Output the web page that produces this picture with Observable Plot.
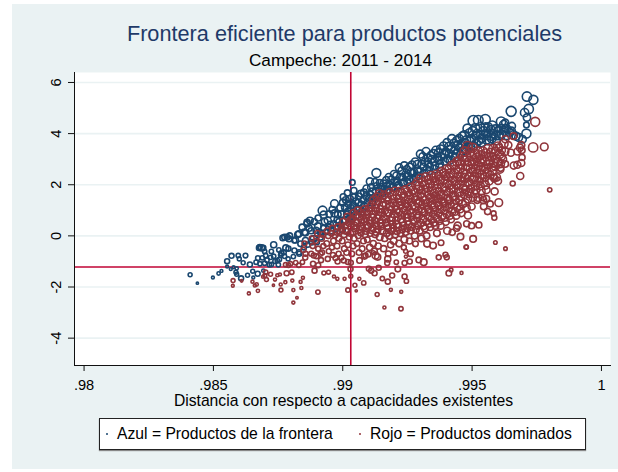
<!DOCTYPE html>
<html><head><meta charset="utf-8">
<script src="https://cdn.jsdelivr.net/npm/d3@7"></script>
<script src="https://cdn.jsdelivr.net/npm/@observablehq/plot@0.6"></script>
<style>
html,body{margin:0;padding:0;background:#fff;width:618px;height:472px;overflow:hidden;font-family:"Liberation Sans",Arial,sans-serif}
#panel{position:absolute;left:12px;top:4px;width:606px;height:465px;background:#eaf2f3}
#chart{position:absolute;left:0;top:0}
.t{position:absolute;white-space:nowrap;transform:translateX(-50%);line-height:1}
#title{left:344.5px;top:23px;font-size:21.7px;color:#1f3a68}
#sub{left:340.5px;top:52px;font-size:17.2px;color:#000}
#xlab{left:343.5px;top:393px;font-size:15.7px;color:#000}
#legend{position:absolute;left:99px;top:418px;width:485px;height:30px;background:#fff;border:1px solid #222;box-shadow:0 1px 1px #888;font-size:15.7px;color:#000}
#legend span{position:absolute;top:7px;white-space:nowrap;line-height:1}
#legend i{position:absolute;top:14px;width:2px;height:2px;border-radius:50%}
</style></head><body>
<div id="panel"></div>
<div id="chart"></div>
<div id="title" class="t">Frontera eficiente para productos potenciales</div>
<div id="sub" class="t">Campeche: 2011 - 2014</div>
<div id="xlab" class="t">Distancia con respecto a capacidades existentes</div>
<div id="legend"><i style="left:6px;background:#1a476f"></i><span style="left:17px">Azul = Productos de la frontera</span><i style="left:259px;background:#90353b"></i><span style="left:270px">Rojo = Productos dominados</span></div>
<script>
const xTicks=[.98,.985,.99,.995,1];
const xTickLabels=[".98",".985",".99",".995","1"];
const yTicks=[-4,-2,0,2,4,6];
const refX=[.99031];
const refY=[-1.22];
// rows: distancia, oportunidad, peso
const azul=[
[.98410,-1.52,5],[.98438,-1.85,1.6],[.98498,-1.63,2.6],[.98520,-1.47,3.5],[.98531,-1.37,2.6],[.98553,-1.20,2.6],[.98567,-1.30,2.6],[.98578,-1.23,2.6],[.98590,-1.27,3.5],[.98587,-1.42,5],[.98590,-1.50,5],[.98607,-1.66,8],[.98632,-1.54,5],[.98652,-1.38,5],[.98654,-1.63,2.6],[.98671,-1.48,8],[.98693,-1.36,3.5],
[.98553,-.99,8],[.98570,-.78,8],[.98596,-.77,6],[.98600,-.90,5],[.98624,-.77,7],[.98615,-1.05,5],[.98641,-1.12,8],[.98672,-.87,7],[.98679,-.44,8],[.98693,-.47,8],[.98698,-.61,6],[.98724,-.61,6],[.98702,-.77,6],[.98721,-.84,6],[.98689,-.86,6],[.98665,-1.03,6],[.98680,-1.09,6],[.98698,-1.07,6],[.98716,-1.13,6],[.98707,-.95,6],[.98733,-.80,6],
[.98733,-.35,12],[.98686,-.47,12],[.98676,-.47,8],[.98753,-.55,6],[.98772,-.64,8],[.98763,-.68,8],[.98780,-.47,12],[.98790,-.50,8],[.98747,-.96,6],[.98738,-.99,6],[.98755,-.92,6],[.98751,-1.13,6],[.98724,-1.12,6],[.98789,-.90,5],[.98813,-.57,8],[.98831,-.64,8],[.98832,-.70,8],[.98809,-.81,6],[.98775,-.80,6],[.98760,-.75,6],
[.98785,-.05,10],[.98775,-.05,10],[.98768,-.08,10],[.98795,.01,10],[.98792,-.12,10],[.98826,.05,12],[.98817,-.16,12],[.98843,.34,12],[.98862,.53,12],[.98852,.14,14],[.98856,-.18,12],[.98837,-.31,10],[.98813,-.18,8],[.98873,.60,14],[.98862,.47,12],[.98830,.08,12],[.98856,.12,12],[.98878,.20,12],[.98897,.22,12],[.98887,-.12,14],[.98914,-.05,10],[.98880,-.25,10],[.98865,-.35,8],[.98850,-.45,8],[.98900,-.25,8],
[.98922,.99,25],[.98926,.83,16],[.98968,1.26,19],[.98942,.60,16],[.98968,.88,16],[.98981,.83,14],[.98904,.38,14],[.98946,.34,10],[.98965,.47,12],[.98925,.30,10],[.98935,.15,10],[.98955,.20,12],[.98918,.10,8],[.98975,.30,12],[.98985,.55,12],
[.99002,1.53,12],[.99000,1.30,14],[.99008,1.12,14],[.98995,.85,14],[.99010,.62,14],[.99018,1.68,12],[.99022,1.25,14],[.99020,.95,14],[.99025,.68,14],[.99037,2.09,10],[.99043,1.77,12],[.99043,1.51,14],[.99040,1.20,14],[.99045,.92,14],[.99062,1.55,14],[.99060,1.30,14],[.99065,1.05,14],[.99082,1.70,14],[.99080,1.40,14],[.99085,1.15,14],
[.99105,2.13,16],[.99130,2.46,25],[.99114,1.73,16],[.99102,1.45,16],[.99130,1.96,12],[.99143,2.07,14],[.99122,1.50,16],[.99140,1.75,14],[.99138,1.58,14],[.99158,2.05,14],[.99162,1.85,14],[.99156,1.70,14],[.99178,2.30,16],[.99182,2.00,16],[.99176,1.80,14],
[.99198,2.42,16],[.99202,2.10,16],[.99195,1.90,14],[.99218,2.67,18],[.99222,2.30,16],[.99216,2.00,16],[.99238,2.75,18],[.99242,2.40,16],[.99236,2.10,16],[.99258,2.70,18],[.99262,2.50,16],[.99256,2.20,16],[.99280,2.90,18],[.99276,2.50,16],[.99284,2.30,16],
[.99300,3.20,20],[.99305,2.80,18],[.99296,2.50,18],[.99322,3.30,20],[.99318,2.90,18],[.99325,2.60,18],[.99340,3.15,18],[.99345,3.00,18],[.99336,2.70,18],[.99360,3.35,20],[.99365,3.05,18],[.99356,2.75,18],[.99378,3.40,20],[.99382,3.10,18],[.99375,2.82,18],
[.99403,3.65,20],[.99398,3.30,18],[.99405,3.02,18],[.99422,3.80,22],[.99418,3.40,20],[.99425,3.12,20],[.99442,3.72,25],[.99445,3.55,20],[.99438,3.22,20],[.99462,3.90,22],[.99458,3.60,20],[.99465,3.32,20],[.99482,4.20,25],[.99478,3.75,22],[.99485,3.50,20],
[.99505,4.50,36],[.99502,4.10,25],[.99498,3.80,22],[.99506,3.52,22],[.99524,4.52,30],[.99520,4.00,25],[.99526,3.72,22],[.99551,4.55,32],[.99545,4.10,25],[.99536,3.82,22],[.99562,4.25,25],[.99558,3.92,22],[.99566,3.72,22],[.99578,4.32,25],[.99582,4.00,22],[.99576,3.80,22],
[.99612,4.47,28],[.99600,4.10,22],[.99605,3.92,22],[.99622,4.35,22],[.99628,4.43,16],[.99625,4.10,22],[.99651,4.87,32],[.99654,4.30,16],[.99645,4.05,20],[.99660,3.95,22],[.99680,3.85,20],
[.99712,5.45,28],[.99737,5.32,26],[.99703,4.82,22],[.99719,4.96,28],[.99712,4.63,17],[.99710,4.34,10],[.99710,4.00,26]
];
const azul2=[
[.98870,.30,12],[.98890,.55,12],[.98905,.70,12],[.98912,.15,10],[.98930,.55,14],[.98948,.85,14],[.98952,.45,12],[.98960,1.02,14],[.98978,.62,12],[.98990,1.10,14],[.98992,.42,12],[.98998,.25,12],[.99012,1.40,14],[.99015,.85,12],[.99028,1.45,14],[.99030,1.10,14],[.99032,.78,14],[.99050,1.35,14],[.99052,1.05,14],[.99054,.80,12],[.99070,1.65,14],[.99072,1.22,14],[.99075,.95,14],[.99092,1.85,16],[.99090,1.55,14],[.99095,1.28,14],[.99110,1.90,16],[.99108,1.60,16],[.99115,1.30,14],[.99125,2.10,16],[.99128,1.75,16],[.99132,1.55,14],
[.99148,1.92,16],[.99150,1.65,16],[.99168,2.18,16],[.99170,1.95,16],[.99172,1.75,14],[.99188,2.20,16],[.99190,1.90,16],[.99208,2.35,18],[.99210,2.15,16],[.99212,1.95,16],[.99228,2.55,18],[.99230,2.30,16],[.99232,2.05,16],[.99248,2.60,18],[.99252,2.32,16],[.99250,2.10,16],[.99268,2.78,18],[.99270,2.45,18],[.99272,2.22,16],[.99288,2.80,18],[.99290,2.55,18],[.99292,2.35,16],
[.99310,3.10,20],[.99312,2.70,18],[.99314,2.45,18],[.99330,3.05,20],[.99332,2.80,18],[.99334,2.55,18],[.99350,3.22,20],[.99352,2.90,18],[.99354,2.62,18],[.99370,3.25,20],[.99372,2.95,18],[.99374,2.70,18],[.99390,3.52,20],[.99392,3.20,20],[.99394,2.92,18],[.99410,3.50,20],[.99412,3.22,20],[.99414,2.95,18],[.99430,3.62,22],[.99432,3.35,20],[.99434,3.08,20],[.99450,3.80,22],[.99452,3.45,20],[.99454,3.18,20],[.99470,3.95,22],[.99472,3.65,22],[.99474,3.38,20],[.99490,4.02,25],[.99492,3.72,22],[.99494,3.50,20],
[.99512,4.22,25],[.99514,3.92,22],[.99516,3.62,22],[.99532,4.25,25],[.99534,3.95,22],[.99536,3.65,22],[.99552,4.25,25],[.99554,4.00,22],[.99556,3.75,22],[.99572,4.15,25],[.99574,3.90,22],[.99590,4.18,22],[.99592,3.92,22],[.99594,3.72,20],[.99612,4.20,22],[.99614,3.98,22],[.99632,4.20,22],[.99635,3.92,20],[.99652,4.10,20],[.99670,3.90,20],[.99695,3.78,18]
];
const rojo=[
[.98576,-1.75,5],[.98575,-1.95,2.5],[.98609,-1.76,2],[.98637,-2.25,3],[.98672,-2.15,3.5],[.98651,-1.79,3],[.98667,-1.90,3.5],[.98660,-1.94,3],[.98692,-1.60,3],[.98702,-1.42,6],[.98705,-1.71,5],[.98699,-1.55,5],[.98721,-1.50,5],[.98738,-1.71,3],[.98747,-1.54,3],[.98757,-1.51,3],[.98732,-1.93,1.6],[.98760,-1.90,3],[.98778,-1.81,3],[.98761,-2.12,5],[.98783,-1.46,8],[.98803,-1.42,6],[.98805,-1.75,3],[.98837,-1.80,3],[.98846,-1.64,3],[.98840,-2.04,3],[.98809,-2.12,3],[.98823,-2.42,2],[.98809,-2.61,3],[.98904,-2.20,6],[.98927,-1.45,5],[.98945,-1.42,5],[.98966,-1.59,3],[.98979,-1.68,3],[.99007,-1.68,3],[.99031,-1.58,5],[.99020,-2.12,6],[.99047,-1.93,5],[.99052,-2.15,1.6],[.99064,-1.68,3],[.99081,-1.84,6],[.99133,-2.29,5],[.99161,-2.80,3],[.99225,-2.85,6],[.99186,-2.11,3],[.99226,-2.19,3],[.99153,-1.67,6],[.99174,-1.79,8],[.99191,-1.55,8],[.99239,-1.59,8],[.99246,-1.77,6],[.99110,-1.36,8],[.99123,-1.46,8],[.99139,-1.25,8],[.99213,-1.30,10],
[.98779,-1.13,6],[.98798,-1.09,6],[.98818,-1.05,6],[.98844,-1.03,6],[.98830,-1.15,6],[.98790,-1.15,6],[.98856,-.70,8],[.98888,-.77,8],[.98885,-1.09,8],[.98891,-1.36,8],[.98905,-1.15,8],[.98914,-.70,8],[.98972,-.87,8],[.99004,-.96,8],[.99020,-1.02,8],[.99030,-1.30,8],[.99065,-.96,10],[.99088,-.77,8],[.99101,-1.29,8],[.99127,-.77,16],[.99135,-.83,12],[.99172,-1.06,8],[.99207,-1.03,6],[.99259,-1.00,8],[.99236,-.45,8],
[.99313,-1.03,14],[.99294,-.94,10],[.99239,-1.06,8],[.99410,-1.46,10],[.99419,-1.33,4],[.99459,-1.45,3],[.99371,-.84,8],[.99397,-.74,8],[.99402,-.84,8],[.99477,-.44,6],[.99455,-.03,14],[.99423,.14,12],[.99380,-.27,10],[.99349,-.38,14],[.99326,-.31,14],[.99281,-.31,10],[.99243,-.60,5],[.99244,-.81,3],[.99174,-.90,12],[.99118,-.66,5],[.99031,-1.05,8],
[.99800,1.80,6],[.99779,3.48,19],[.99736,3.46,28],[.99744,4.46,26],[.99686,2.34,16],[.99657,2.05,8],[.99603,1.30,19],[.99587,1.74,16],[.99583,.88,8],[.99586,.71,8],[.99590,-.26,4],[.99629,-.50,4],[.99504,-.12,14],[.99478,-.44,5],[.99526,.43,12],[.99479,.47,12],[.99498,.40,12],[.99440,.30,12],[.99661,2.75,16],[.99675,2.78,16],[.99690,2.85,16],[.99693,3.07,12],[.99685,3.45,16],[.99692,3.35,14],[.99628,2.81,14],[.99596,2.29,16],[.99600,2.15,16],[.99583,2.30,14],[.99610,2.65,14],[.99555,1.45,14],[.99540,1.50,14],[.99520,1.40,14],[.99560,.95,12],[.99545,1.15,14],[.99570,1.25,12],[.99660,3.90,14],[.99628,3.78,16],[.99690,3.55,16],[.99605,3.45,16],[.99615,3.35,16],[.99650,3.25,16],[.99675,3.30,16],[.99640,3.55,16],
[.98852,-.30,8],[.98848,-.55,8],[.98855,-.85,8],[.98880,-.10,8],[.98884,-.40,8],[.98878,-.70,8],[.98902,.10,10],[.98896,-.20,8],[.98905,-.50,8],[.98898,-.80,8],[.98922,.05,10],[.98918,-.10,10],[.98925,-.40,8],[.98920,-.65,8],[.98916,-.95,8],[.98940,.20,10],[.98944,.00,10],[.98938,-.30,10],[.98946,-.60,8],[.98942,-.90,8],[.98960,.30,10],[.98956,.10,10],[.98964,-.20,10],[.98958,-.45,8],[.98962,-.75,8],[.98982,.35,12],[.98976,.15,12],[.98985,-.10,10],[.98978,-.40,10],[.98984,-.70,8],[.98980,-1.00,8],
[.99002,.55,14],[.98996,.30,12],[.99005,.05,12],[.98998,-.20,10],[.99006,-.50,10],[.98995,-.85,8],[.99018,.75,14],[.99024,.50,14],[.99016,.20,12],[.99025,-.05,10],[.99020,-.35,10],[.99015,-.65,10],[.99042,.90,14],[.99036,.65,14],[.99045,.40,14],[.99038,.15,12],[.99044,-.10,10],[.99040,-.40,10],[.99035,-.70,10],[.99058,1.00,14],[.99064,.75,14],[.99056,.50,14],[.99065,.25,12],[.99060,.00,10],[.99055,-.30,10],[.99063,-.65,10],[.99084,1.05,14],[.99078,.80,14],[.99085,.55,14],[.99076,.30,12],[.99086,.05,12],[.99080,-.20,10],[.99075,-.50,10],[.99084,-.80,10],
[.99102,1.10,16],[.99096,.85,16],[.99105,.60,14],[.99098,.35,14],[.99106,.10,12],[.99095,-.15,10],[.99104,-.45,12],[.99098,-.72,10],[.99120,1.40,20],[.99126,1.10,18],[.99118,.85,16],[.99124,.60,14],[.99116,.30,14],[.99125,.05,12],[.99118,-.30,12],[.99122,-.60,12],[.99142,1.65,20],[.99136,1.35,18],[.99144,1.05,16],[.99138,.80,16],[.99146,.50,14],[.99135,.25,14],[.99143,-.05,14],[.99137,-.40,12],[.99160,1.60,20],[.99156,1.30,18],[.99164,1.00,16],[.99158,.75,16],[.99166,.50,14],[.99155,.20,14],[.99162,-.10,12],[.99158,-.50,12],[.99182,1.70,20],[.99176,1.40,18],[.99184,1.15,18],[.99178,.90,16],[.99186,.60,16],[.99175,.30,14],[.99180,.00,14],[.99185,-.35,12],[.99176,-.70,10],
[.99202,1.75,20],[.99196,1.45,18],[.99204,1.15,18],[.99198,.85,16],[.99206,.60,16],[.99195,.30,14],[.99203,.05,14],[.99197,-.20,14],[.99200,-.65,10],[.99222,1.75,20],[.99216,1.45,18],[.99224,1.20,18],[.99218,.95,16],[.99226,.65,16],[.99215,.35,16],[.99223,.10,14],[.99218,-.30,14],[.99242,1.80,20],[.99236,1.55,20],[.99244,1.25,18],[.99238,1.00,18],[.99246,.70,16],[.99235,.40,16],[.99243,.15,14],[.99238,-.15,14],[.99262,1.90,20],[.99256,1.60,20],[.99264,1.30,18],[.99258,1.00,18],[.99266,.75,16],[.99255,.45,16],[.99263,.20,14],[.99258,-.20,12],[.99262,-.70,10],[.99282,2.00,22],[.99276,1.70,20],[.99284,1.40,18],[.99278,1.15,18],[.99286,.85,16],[.99275,.55,16],[.99283,.25,14],[.99278,.00,14],
[.99302,2.25,22],[.99296,1.95,22],[.99304,1.65,20],[.99298,1.35,18],[.99306,1.05,18],[.99295,.80,16],[.99303,.50,16],[.99298,.20,14],[.99304,-.10,14],[.99322,2.30,24],[.99316,2.00,22],[.99324,1.70,20],[.99318,1.40,20],[.99326,1.15,18],[.99315,.90,18],[.99323,.55,16],[.99318,.30,16],[.99324,.00,14],[.99342,2.35,24],[.99336,2.05,22],[.99344,1.75,22],[.99338,1.50,20],[.99346,1.20,18],[.99335,.95,18],[.99343,.65,16],[.99338,.35,16],[.99362,2.40,24],[.99356,2.15,22],[.99364,1.85,22],[.99358,1.55,20],[.99366,1.30,20],[.99355,1.00,18],[.99363,.70,16],[.99358,.40,16],[.99364,.10,14],[.99382,2.50,24],[.99376,2.20,24],[.99384,1.90,22],[.99378,1.60,20],[.99386,1.35,20],[.99375,1.05,18],[.99383,.75,18],[.99378,.40,16],
[.99402,2.60,25],[.99396,2.35,24],[.99404,2.05,22],[.99398,1.75,22],[.99406,1.45,20],[.99395,1.15,20],[.99403,.85,18],[.99398,.55,16],[.99404,.20,16],[.99422,2.75,25],[.99416,2.45,25],[.99424,2.15,22],[.99418,1.85,22],[.99426,1.55,20],[.99415,1.25,20],[.99423,.95,18],[.99418,.65,16],[.99442,2.90,25],[.99436,2.60,25],[.99444,2.30,24],[.99438,2.00,22],[.99446,1.70,22],[.99435,1.40,20],[.99443,1.10,18],[.99438,.80,18],[.99444,.40,16],[.99462,3.10,26],[.99456,2.80,25],[.99464,2.45,25],[.99458,2.15,22],[.99466,1.85,22],[.99455,1.55,20],[.99463,1.25,20],[.99458,.90,18],[.99482,3.50,30],[.99476,3.10,26],[.99484,2.75,25],[.99478,2.40,25],[.99486,2.10,22],[.99475,1.80,20],[.99483,1.45,20],[.99478,1.10,18],[.99484,.80,16],
[.99502,3.45,26],[.99496,3.10,25],[.99504,2.80,25],[.99498,2.50,25],[.99506,2.20,22],[.99495,1.85,20],[.99503,1.50,18],[.99498,1.15,16],[.99522,3.30,26],[.99516,3.05,25],[.99524,2.75,25],[.99518,2.45,22],[.99526,2.15,22],[.99515,1.80,20],[.99523,1.50,18],[.99542,3.30,26],[.99536,3.00,25],[.99544,2.70,25],[.99538,2.40,22],[.99546,2.10,22],[.99535,1.75,20],[.99543,1.40,16],[.99562,3.40,26],[.99556,3.10,25],[.99564,2.80,25],[.99558,2.50,22],[.99566,2.15,20],[.99555,1.80,18],[.99582,3.40,26],[.99576,3.10,25],[.99584,2.85,22],[.99578,2.55,22],[.99586,2.25,18],[.99600,3.50,25],[.99606,3.20,25],[.99598,2.90,22],[.99608,2.60,18],[.99622,3.60,25],[.99626,3.30,22],[.99618,3.00,20]
];
const rojo2=[
[.98970,.02,10],[.98990,.18,12],[.99010,.40,12],[.99012,.18,12],[.99030,.62,14],[.99032,.35,12],[.99030,.10,12],[.99050,.78,14],[.99052,.55,14],[.99048,.28,12],[.99070,.90,14],[.99072,.62,14],[.99068,.38,14],[.99070,.12,12],[.99092,.95,14],[.99090,.68,14],[.99094,.42,14],[.99090,.18,12],
[.99112,1.22,18],[.99110,.98,18],[.99114,.72,16],[.99108,.48,14],[.99112,.22,14],[.99132,1.52,20],[.99130,1.25,20],[.99128,.95,18],[.99134,.70,16],[.99130,.42,14],[.99128,.15,14],[.99150,1.48,20],[.99152,1.18,20],[.99148,.92,18],[.99152,.62,16],[.99150,.38,14],[.99170,1.52,22],[.99168,1.22,20],[.99172,.92,18],[.99168,.65,16],[.99172,.40,16],[.99170,.10,14],[.99190,1.58,22],[.99192,1.28,20],[.99188,1.02,18],[.99190,.72,16],[.99192,.45,16],[.99188,.18,14],
[.99210,1.60,22],[.99212,1.30,20],[.99208,1.02,18],[.99212,.75,18],[.99208,.45,16],[.99210,.18,14],[.99230,1.65,22],[.99228,1.35,20],[.99232,1.10,20],[.99228,.82,18],[.99232,.55,16],[.99230,.25,14],[.99250,1.72,22],[.99252,1.42,20],[.99248,1.15,20],[.99250,.85,18],[.99252,.58,16],[.99250,.30,16],[.99270,1.78,22],[.99272,1.48,22],[.99268,1.18,20],[.99270,.90,18],[.99272,.62,16],[.99268,.35,16],[.99290,2.12,22],[.99292,1.82,22],[.99288,1.55,20],[.99290,1.28,20],[.99292,.98,18],[.99288,.70,18],[.99290,.40,16],
[.99310,2.10,24],[.99312,1.82,22],[.99308,1.50,22],[.99312,1.25,20],[.99308,.95,18],[.99310,.68,18],[.99312,.38,16],[.99332,2.18,24],[.99330,1.88,22],[.99334,1.60,22],[.99330,1.30,20],[.99332,1.05,20],[.99330,.78,18],[.99334,.48,16],[.99352,2.25,24],[.99350,1.98,24],[.99354,1.65,22],[.99350,1.42,20],[.99354,1.12,20],[.99350,.85,18],[.99352,.52,16],[.99372,2.32,24],[.99370,2.02,24],[.99374,1.72,22],[.99370,1.45,22],[.99372,1.20,20],[.99370,.90,18],[.99374,.58,16],[.99392,2.45,25],[.99390,2.20,24],[.99394,1.90,22],[.99390,1.58,22],[.99392,1.30,20],[.99390,1.00,18],[.99394,.72,18],
[.99412,2.60,25],[.99410,2.30,24],[.99414,2.00,24],[.99410,1.70,22],[.99412,1.40,20],[.99410,1.10,20],[.99414,.80,18],[.99432,2.78,25],[.99430,2.45,25],[.99434,2.15,24],[.99430,1.85,22],[.99432,1.55,22],[.99430,1.25,20],[.99434,.95,18],[.99452,2.95,26],[.99450,2.62,25],[.99454,2.30,25],[.99450,2.00,22],[.99452,1.70,22],[.99450,1.40,20],[.99454,1.05,18],[.99472,3.30,28],[.99470,2.95,26],[.99474,2.60,25],[.99470,2.28,24],[.99472,1.98,22],[.99470,1.62,20],[.99474,1.30,18],[.99492,3.28,28],[.99490,2.92,26],[.99494,2.62,25],[.99490,2.32,24],[.99492,2.00,22],[.99490,1.65,20],
[.99512,3.20,28],[.99510,2.92,26],[.99514,2.62,25],[.99510,2.30,24],[.99512,1.98,22],[.99510,1.65,20],[.99532,3.15,26],[.99530,2.88,25],[.99534,2.58,24],[.99530,2.28,22],[.99532,1.95,20],[.99552,3.22,26],[.99550,2.92,25],[.99554,2.62,24],[.99550,2.30,22],[.99552,1.98,20],[.99572,3.25,26],[.99570,2.95,25],[.99574,2.68,22],[.99570,2.38,20],[.99590,3.30,25],[.99592,3.02,24],[.99590,2.72,22],[.99612,3.12,24],[.99610,2.82,20]
];
const x=d=>d[0], y=d=>d[1], w=d=>d[2];
const plot=Plot.plot({
  width:618,height:472,marginLeft:74,marginRight:8,marginTop:72,marginBottom:107,
  style:{background:"transparent",fontFamily:'"Liberation Sans",Arial,sans-serif',fontSize:"14.6px",color:"#000"},
  x:{domain:[.97963,1.00035]},
  y:{domain:[-5.07,6.39]},
  r:{type:"sqrt",domain:[0,100],range:[0,8.8]},
  marks:[
    Plot.frame({fill:"#fff",stroke:"none"}),
    Plot.gridY(yTicks,{stroke:"#eaf2f3",strokeOpacity:1,strokeWidth:1.6}),
    Plot.ruleX(refX,{stroke:"#c10534",strokeWidth:1.6}),
    Plot.ruleY(refY,{stroke:"#c10534",strokeWidth:1.6}),
    Plot.dot(azul.concat(azul2),{x,y,r:w,stroke:"#1a476f",strokeWidth:1.6,fill:"none"}),
    Plot.dot(rojo.concat(rojo2),{x,y,r:w,stroke:"#90353b",strokeWidth:1.6,fill:"none"}),
    Plot.frame({anchor:"left",stroke:"#111",strokeWidth:1}),
    Plot.frame({anchor:"bottom",stroke:"#111",strokeWidth:1}),
    Plot.axisX(xTicks,{anchor:"bottom",tickSize:6,tickPadding:8,tickFormat:d=>xTickLabels[xTicks.indexOf(d)],label:null,stroke:"#111"}),
    Plot.axisY(yTicks,{anchor:"left",tickSize:6,tickPadding:8,tickRotate:-90,tickFormat:d=>String(d),label:null,stroke:"#111"})
  ]
});
document.getElementById("chart").appendChild(plot);
</script>
</body></html>
